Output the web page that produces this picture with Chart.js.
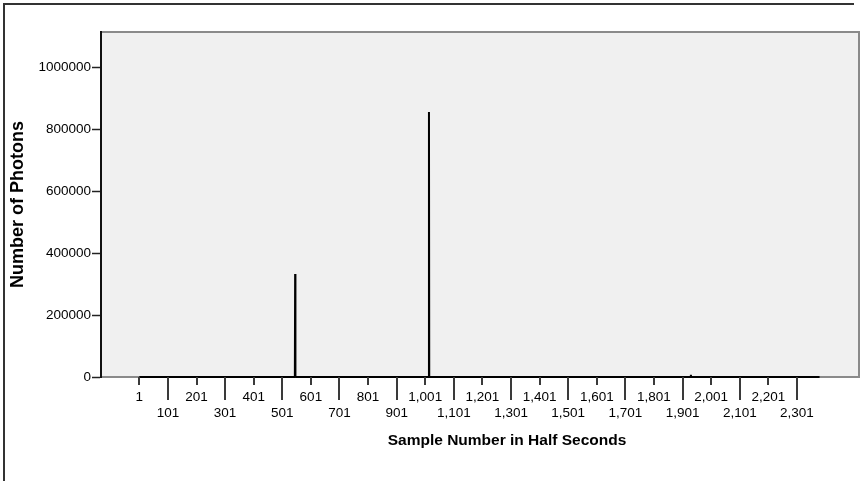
<!DOCTYPE html>
<html>
<head>
<meta charset="utf-8">
<script src="https://cdn.jsdelivr.net/npm/chart.js@4/dist/chart.umd.min.js"></script>
<style>
  body { margin: 0; background: #fff; }
  #wrap { width: 863px; height: 481px; }
</style>
</head>
<body>
<div id="wrap"><canvas id="photonChart" width="863" height="481"></canvas></div>
<script>
// samples (everything else sits on ~0)
const sampleNumbers = [1, 545, 546, 547, 1013, 1014, 1015, 1929, 1930, 1931, 2380];
const photonCounts = [0, 0, 332000, 0, 0, 855000, 0, 0, 7000, 0, 0];

const xTickValues = [1, 101, 201, 301, 401, 501, 601, 701, 801, 901, 1001, 1101,
  1201, 1301, 1401, 1501, 1601, 1701, 1801, 1901, 2001, 2101, 2201, 2301];
const yTickValues = [0, 200000, 400000, 600000, 800000, 1000000];

const xTitle = "Sample Number in Half Seconds";
const yTitle = "Number of Photons";

const FONT = "'Liberation Sans', Arial, sans-serif";

const points = sampleNumbers.map((s, i) => ({ x: s, y: photonCounts[i] }));

// gray plot background, outer frame, x ticks and x title
const backdrop = {
  id: "backdrop",
  beforeDraw(chart) {
    const { ctx, chartArea: a } = chart;
    ctx.save();
    ctx.fillStyle = "#f0f0f0";
    ctx.fillRect(a.left, a.top, a.right - a.left, a.bottom - a.top);
    ctx.strokeStyle = "#333";
    ctx.lineWidth = 2;
    ctx.beginPath();
    ctx.moveTo(4, 481);
    ctx.lineTo(4, 4);
    ctx.lineTo(854, 4);
    ctx.stroke();
    // top and right edge of the plot
    ctx.strokeStyle = "#8a8a8a";
    ctx.beginPath();
    ctx.moveTo(a.left, a.top);
    ctx.lineTo(a.right, a.top);
    ctx.lineTo(a.right, a.bottom);
    ctx.stroke();
    ctx.restore();
  },
  afterDraw(chart) {
    const { ctx, chartArea: a } = chart;
    const xs = chart.scales.x;
    ctx.save();
    ctx.strokeStyle = "#3a3a3a";
    ctx.lineWidth = 2;
    xs.ticks.forEach((t, i) => {
      const px = Math.round(xs.getPixelForValue(t.value));
      ctx.beginPath();
      ctx.moveTo(px, a.bottom);
      ctx.lineTo(px, a.bottom + (i % 2 === 0 ? 8 : 23));
      ctx.stroke();
    });
    ctx.fillStyle = "#000";
    ctx.font = "bold 15.5px " + FONT;
    ctx.textAlign = "center";
    ctx.textBaseline = "middle";
    ctx.fillText(xTitle, 507, 441);
    ctx.restore();
  }
};

new Chart(document.getElementById("photonChart"), {
  type: "line",
  data: {
    datasets: [{
      data: points,
      borderColor: "#000",
      borderWidth: 2,
      borderJoinStyle: "bevel",
      pointRadius: 0,
      tension: 0,
      clip: false
    }]
  },
  options: {
    responsive: false,
    animation: false,
    events: [],
    layout: { padding: { top: 32, right: 4, left: 0, bottom: 0 } },
    plugins: { legend: { display: false }, tooltip: { enabled: false } },
    scales: {
      x: {
        type: "linear",
        min: -133,
        max: 2518,
        afterFit: s => { s.height = 104; },
        afterBuildTicks: s => { s.ticks = xTickValues.map(v => ({ value: v })); },
        border: { color: "#8a8a8a", width: 2 },
        grid: { drawOnChartArea: false, drawTicks: false },
        ticks: {
          padding: 12,
          autoSkip: false,
          maxRotation: 0,
          color: "#000",
          font: { family: FONT, size: 13.5 },
          callback: (v, i) => {
            const s = Number(v).toLocaleString("en-US");
            return i % 2 === 0 ? [s] : ["", s];
          }
        }
      },
      y: {
        min: 0,
        max: 1113000,
        afterFit: s => { s.width = 101; },
        afterBuildTicks: s => { s.ticks = yTickValues.map(v => ({ value: v })); },
        border: { color: "#111", width: 2 },
        grid: { drawOnChartArea: false, tickLength: 9, tickColor: "#222", tickWidth: 1.5 },
        ticks: {
          padding: 1,
          color: "#000",
          font: { family: FONT, size: 13.5 },
          callback: v => String(v)
        },
        title: {
          display: true,
          text: yTitle,
          color: "#000",
          font: { family: FONT, size: 18, weight: "bold" },
          padding: { top: 7, bottom: 0 }
        }
      }
    }
  },
  plugins: [backdrop]
});
</script>
</body>
</html>
